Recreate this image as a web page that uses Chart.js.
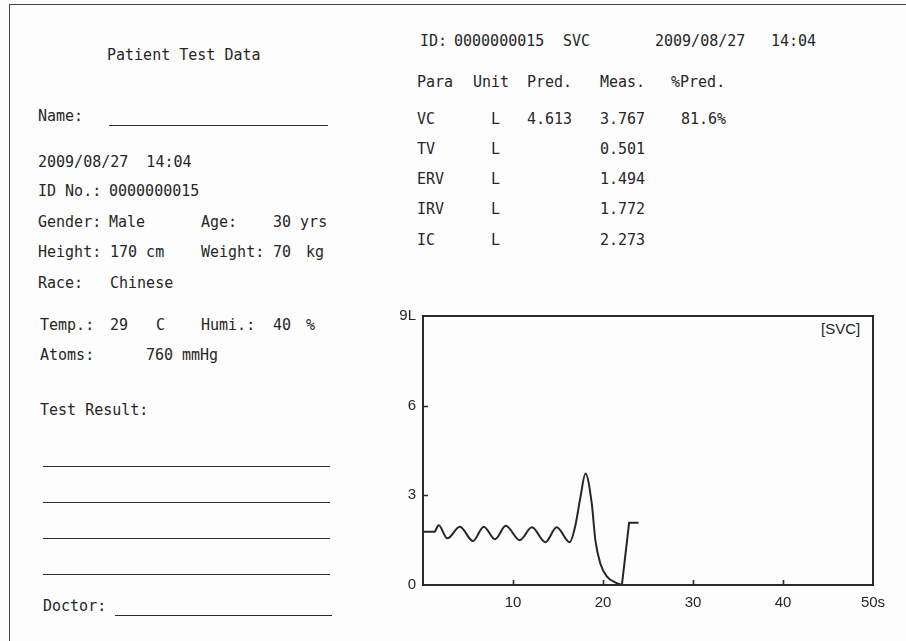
<!DOCTYPE html>
<html>
<head>
<meta charset="utf-8">
<script src="https://cdn.jsdelivr.net/npm/chart.js@4/dist/chart.umd.min.js"></script>
<style>
  html, body { margin:0; padding:0; }
  body { width:906px; height:641px; background:#fdfdfd; position:relative; overflow:hidden; }
  .t { position:absolute; font-family:"DejaVu Sans Mono", "Liberation Mono", monospace; font-size:15px; line-height:15px; color:#262626; white-space:pre; }
  .ln { position:absolute; height:0; border-top:1.6px solid #2e2e2e; }
  #frameTop { position:absolute; left:9px; top:4px; width:897px; height:0; border-top:1.5px solid #444; }
  #frameLeft { position:absolute; left:9px; top:4px; width:0; height:637px; border-left:1.5px solid #444; }
  #svcTag { position:absolute; left:821px; top:320px; font-family:"Liberation Sans", Arial, sans-serif; font-size:15px; color:#262626; }
  #c { position:absolute; left:380px; top:300px; }
</style>
</head>
<body>
<div id="frameTop"></div>
<div id="frameLeft"></div>
<div id="svcTag">[SVC]</div>
<canvas id="c" width="526" height="341"></canvas>
<script>
// ---- data ----
const timeSec   = [0, 1.25, 1.74, 2.7, 4.1, 5.55, 6.75, 8.0, 9.2, 10.75, 12.1, 13.6, 14.85, 16.3, 16.9, 17.5, 18.05, 18.75, 19.15, 19.7, 20.45, 21.4, 22.1];
const volumeL   = [1.78, 1.78, 2.0, 1.56, 1.95, 1.47, 1.95, 1.53, 1.98, 1.5, 1.93, 1.43, 1.93, 1.43, 1.95, 2.95, 3.73, 2.73, 1.5, 0.72, 0.28, 0.08, 0];
const recoverTimeSec = [22.1, 22.9, 23.95];
const recoverVolumeL = [0, 2.08, 2.08];
const xTickLabels = ['', '10', '20', '30', '40', '50s'];
const yTickLabels = ['0', '3', '6', '9L'];

const params   = ['VC', 'TV', 'ERV', 'IRV', 'IC'];
const units    = ['L', 'L', 'L', 'L', 'L'];
const predVals = ['4.613', '', '', '', ''];
const measVals = ['3.767', '0.501', '1.494', '1.772', '2.273'];
const pctPred  = ['81.6%', '', '', '', ''];

// ---- text helpers ----
function put(txt, x, baseline) {
  const d = document.createElement('div');
  d.className = 't';
  d.textContent = txt;
  d.style.left = x + 'px';
  d.style.top = (baseline - 12.5) + 'px';
  document.body.appendChild(d);
}
function line(x1, x2, y) {
  const d = document.createElement('div');
  d.className = 'ln';
  d.style.left = x1 + 'px';
  d.style.width = (x2 - x1) + 'px';
  d.style.top = y + 'px';
  document.body.appendChild(d);
}

// left column
put('Patient Test Data', 107, 60);
put('Name:', 38, 121.5); line(109, 328, 125);
put('2009/08/27  14:04', 38, 167.5);
put('ID No.: ', 38, 196.5); put('0000000015', 109, 196.5);
put('Gender:', 38, 227.5); put('Male', 109, 227.5); put('Age:', 201, 227.5); put('30 yrs', 273, 227.5);
put('Height:', 38, 257.5); put('170 cm', 110, 257.5); put('Weight:', 201, 257.5); put('70', 273, 257.5); put('kg', 306, 257.5);
put('Race:', 38, 288.5); put('Chinese', 110, 288.5);
put('Temp.:', 40, 330); put('29', 110, 330); put('C', 156, 330); put('Humi.:', 201, 330); put('40', 273, 330); put('%', 306, 330);
put('Atoms:', 40, 360); put('760', 146, 360); put('mmHg', 182, 360);
put('Test Result:', 40, 415);
line(43, 330, 466); line(43, 330, 502); line(43, 330, 538); line(43, 330, 573.5);
put('Doctor:', 43, 611.5); line(115, 332, 614.5);

// right header + table
put('ID:', 420, 46.5); put('0000000015', 454, 46.5); put('SVC', 563, 46.5); put('2009/08/27', 655, 46.5); put('14:04', 771, 46.5);
put('Para', 417, 87.5); put('Unit', 473, 87.5); put('Pred.', 527, 87.5); put('Meas.', 600, 87.5); put('%Pred.', 671, 87.5);
const rowBase = [124, 154.5, 184, 214, 245];
params.forEach((p, i) => {
  put(p, 417, rowBase[i]);
  put(units[i], 491, rowBase[i]);
  if (predVals[i]) put(predVals[i], 527, rowBase[i]);
  put(measVals[i], 600, rowBase[i]);
  if (pctPred[i]) put(pctPred[i], 681, rowBase[i]);
});

// ---- chart ----
const boxPlugin = {
  id: 'boxPlugin',
  afterDraw(chart) {
    const { ctx, chartArea: a, scales: { x, y } } = chart;
    ctx.save();
    ctx.strokeStyle = '#2a2a2a';
    ctx.lineWidth = 2;
    ctx.strokeRect(a.left, a.top, a.right - a.left, a.bottom - a.top);
    ctx.lineWidth = 1.6;
    ctx.beginPath();
    [10, 20, 30, 40].forEach(v => {
      const px = Math.round(x.getPixelForValue(v)) + 0.5;
      ctx.moveTo(px, a.bottom); ctx.lineTo(px, a.bottom - 5);
    });
    [3, 6].forEach(v => {
      const py = Math.round(y.getPixelForValue(v)) + 0.5;
      ctx.moveTo(a.left, py); ctx.lineTo(a.left + 5, py);
    });
    ctx.stroke();
    ctx.restore();
  }
};

new Chart(document.getElementById('c'), {
  type: 'line',
  data: {
    datasets: [
      {
        data: timeSec.map((t, i) => ({ x: t, y: volumeL[i] })),
        borderColor: '#262626', borderWidth: 2, pointRadius: 0, fill: false,
        cubicInterpolationMode: 'monotone'
      },
      {
        data: recoverTimeSec.map((t, i) => ({ x: t, y: recoverVolumeL[i] })),
        borderColor: '#262626', borderWidth: 2, pointRadius: 0, fill: false,
        tension: 0
      }
    ]
  },
  options: {
    responsive: false,
    animation: false,
    devicePixelRatio: 1,
    layout: { padding: { top: 16, right: 33, left: 0, bottom: 0 } },
    plugins: { legend: { display: false }, tooltip: { enabled: false } },
    scales: {
      x: {
        type: 'linear', min: 0, max: 50,
        afterFit(s) { s.height = 56; },
        grid: { display: false, drawTicks: false },
        border: { display: false },
        ticks: {
          stepSize: 10, padding: 9, maxRotation: 0,
          color: '#262626',
          font: { family: '"Liberation Sans", Arial, sans-serif', size: 15 },
          callback: (v, i) => xTickLabels[i]
        }
      },
      y: {
        type: 'linear', min: 0, max: 9,
        afterFit(s) { s.width = 43; },
        grid: { display: false, drawTicks: false },
        border: { display: false },
        ticks: {
          stepSize: 3, padding: 7,
          color: '#262626',
          font: { family: '"Liberation Sans", Arial, sans-serif', size: 15 },
          callback: (v, i) => yTickLabels[i]
        }
      }
    }
  },
  plugins: [boxPlugin]
});
</script>
</body>
</html>
